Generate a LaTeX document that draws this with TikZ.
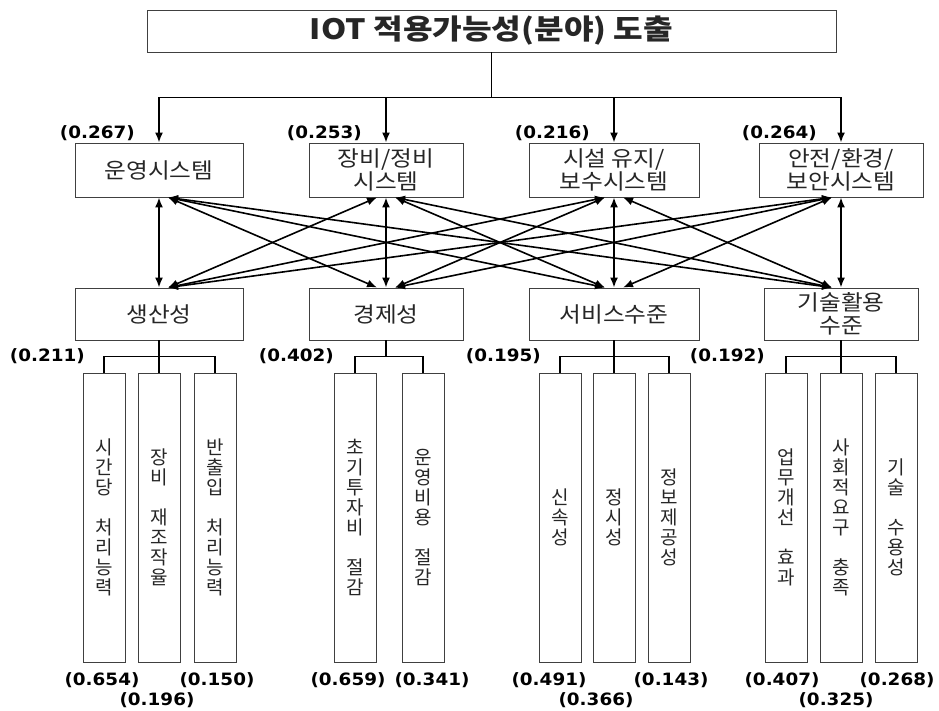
\documentclass[tikz,border=0pt]{standalone}
\usepackage{fontspec}
\setmainfont{Noto Sans CJK KR}
\newfontfamily\titlefont[FakeStretch=1.15]{Noto Sans CJK KR}
\newfontfamily\boxfont[FakeStretch=1.1]{Noto Sans CJK KR}
\newfontfamily\numfont[FakeStretch=1.08]{DejaVu Sans}
\usetikzlibrary{positioning,arrows.meta}

\begin{document}
\begin{tikzpicture}[x=1pt, y=-1pt,
    box/.style={draw=black!75, line width=0.9pt, rectangle, align=center, inner sep=0pt, text=black!85, font=\boxfont\fontsize{21.5}{23}\selectfont},
    subbox/.style={draw=black!75, line width=0.9pt, rectangle, align=center, inner sep=0pt, minimum width=42pt, minimum height=289pt, text=black!85, font=\fontsize{19}{20}\selectfont},
    wlab/.style={inner sep=0pt, font=\numfont\bfseries\fontsize{17}{17}\selectfont},
    link/.style={line width=1.6pt},
    downarrow/.style={-{Latex[length=10pt,width=8pt]}},
    twoway/.style={{Latex[length=10pt,width=8pt]}-{Latex[length=10pt,width=8pt]}}]
    \useasboundingbox (0,0) rectangle (939,711);

    % Goal
    \node[box, minimum width=689pt, minimum height=42pt, font=\titlefont\bfseries\fontsize{28}{28}\selectfont] (goal) at (491.5,31) {IOT 적용가능성(분야) 도출};

    % Upper level: systems
    \node[box, minimum width=168pt, minimum height=54pt] (sys1) at (159,170) {운영시스템};
    \node[box, minimum width=154pt, minimum height=54pt] (sys2) at (386,170) {장비/정비\\시스템};
    \node[box, minimum width=170pt, minimum height=54pt] (sys3) at (614,170) {시설 유지/\\보수시스템};
    \node[box, minimum width=164pt, minimum height=54pt] (sys4) at (841,170) {안전/환경/\\보안시스템};

    \draw[link] (goal.south) -- ++(0,45) coordinate (hub);
    \foreach \i in {1,...,4} \draw[link, downarrow] (hub) -| (sys\i.north);

    \node[wlab, above left=2pt and 24pt of sys1.north] (wsys1) {(0.267)};
    \node[wlab, above left=2pt and 24pt of sys2.north] (wsys2) {(0.253)};
    \node[wlab, above left=2pt and 24pt of sys3.north] (wsys3) {(0.216)};
    \node[wlab, above left=2pt and 24pt of sys4.north] (wsys4) {(0.264)};

    % Middle level: criteria
    \node[box, minimum width=168pt, minimum height=52pt] (crit1) at (159,314) {생산성};
    \node[box, minimum width=154pt, minimum height=52pt] (crit2) at (386,314) {경제성};
    \node[box, minimum width=170pt, minimum height=52pt] (crit3) at (614,314) {서비스수준};
    \node[box, minimum width=154pt, minimum height=52pt] (crit4) at (841,314) {기술활용\\수준};

    % Every system to every criterion
    \foreach \i in {1,...,4}
        \foreach \j in {1,...,4} {
            \pgfmathsetmacro{\offa}{9*sign(\j-\i)}
            \pgfmathsetmacro{\offb}{-9*sign(\j-\i)}
            \draw[link, twoway] ([xshift=\offa pt]sys\i.south) -- ([xshift=\offb pt]crit\j.north);
        }

    % Lower level: sub-criteria
    \node[subbox] (prod1) at (104,517.5) {시\\간\\당\\[20pt]처\\리\\능\\력};
    \node[subbox] (prod2) at (159,517.5) {장\\비\\[20pt]재\\조\\작\\율};
    \node[subbox] (prod3) at (215,517.5) {반\\출\\입\\[20pt]처\\리\\능\\력};
    \node[subbox] (econ1) at (355,517.5) {초\\기\\투\\자\\비\\[20pt]절\\감};
    \node[subbox] (econ2) at (423,517.5) {운\\영\\비\\용\\[20pt]절\\감};
    \node[subbox] (serv1) at (560,517.5) {신\\속\\성};
    \node[subbox] (serv2) at (614,517.5) {정\\시\\성};
    \node[subbox] (serv3) at (669,517.5) {정\\보\\제\\공\\성};
    \node[subbox] (tech1) at (786,517.5) {업\\무\\개\\선\\[20pt]효\\과};
    \node[subbox] (tech2) at (841,517.5) {사\\회\\적\\요\\구\\[20pt]충\\족};
    \node[subbox] (tech3) at (896,517.5) {기\\술\\[20pt]수\\용\\성};

    \draw[link] (crit1.south) -- ++(0,16) coordinate (hprod);
    \draw[link] (crit2.south) -- ++(0,16) coordinate (hecon);
    \draw[link] (crit3.south) -- ++(0,16) coordinate (hserv);
    \draw[link] (crit4.south) -- ++(0,16) coordinate (htech);
    \foreach \s in {prod1,prod2,prod3} \draw[link] (hprod) -| (\s.north);
    \foreach \s in {econ1,econ2} \draw[link] (hecon) -| (\s.north);
    \foreach \s in {serv1,serv2,serv3} \draw[link] (hserv) -| (\s.north);
    \foreach \s in {tech1,tech2,tech3} \draw[link] (htech) -| (\s.north);

    \node[wlab, left=19pt of prod1.north, yshift=16pt] (wcrit1) {(0.211)};
    \node[wlab, left=21pt of econ1.north, yshift=16pt] (wcrit2) {(0.402)};
    \node[wlab, left=19pt of serv1.north, yshift=16pt] (wcrit3) {(0.195)};
    \node[wlab, left=21pt of tech1.north, yshift=16pt] (wcrit4) {(0.192)};

    % Weights under sub-criteria
    \node[wlab, below=10pt of prod1, xshift=-2pt] (wprod1) {(0.654)};
    \node[wlab, below=30pt of prod2, xshift=-2pt] (wprod2) {(0.196)};
    \node[wlab, below=10pt of prod3, xshift=2pt] (wprod3) {(0.150)};
    \node[wlab, below=10pt of econ1, xshift=-7pt] (wecon1) {(0.659)};
    \node[wlab, below=10pt of econ2, xshift=9pt] (wecon2) {(0.341)};
    \node[wlab, below=10pt of serv1, xshift=-11pt] (wserv1) {(0.491)};
    \node[wlab, below=30pt of serv2, xshift=-18pt] (wserv2) {(0.366)};
    \node[wlab, below=10pt of serv3, xshift=2pt] (wserv3) {(0.143)};
    \node[wlab, below=10pt of tech1, xshift=-4pt] (wtech1) {(0.407)};
    \node[wlab, below=30pt of tech2, xshift=-5pt] (wtech2) {(0.325)};
    \node[wlab, below=10pt of tech3, xshift=1pt] (wtech3) {(0.268)};
\end{tikzpicture}
\end{document}
